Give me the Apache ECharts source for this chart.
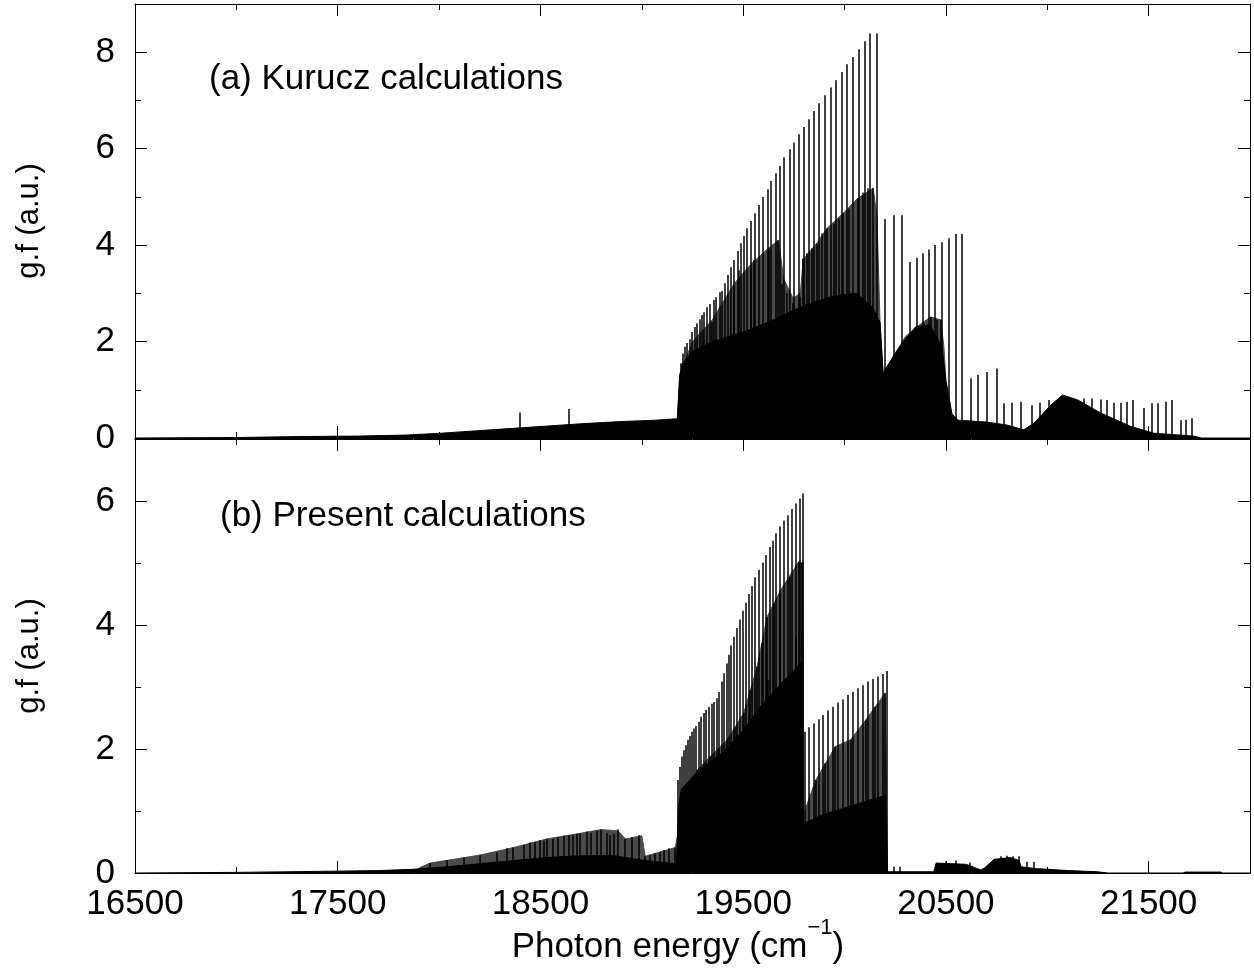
<!DOCTYPE html>
<html lang="en">
<head>
<meta charset="UTF-8">
<title>g.f spectra</title>
<script src="https://cdn.jsdelivr.net/npm/echarts@6/dist/echarts.min.js"></script>
<style>
    html, body { margin: 0; padding: 0; background: #fff; }
    #chart { width: 1254px; height: 976px; }
</style>
</head>
<body>
<div id="chart"></div>
<script>
// axis ticks
var xMajor = [16500, 17500, 18500, 19500, 20500, 21500]
var xMinor = [17000, 18000, 19000, 20000, 21000, 22000]
var yMajorA = [0, 2, 4, 6, 8]
var yMinorA = [1, 3, 5, 7, 9]
var yMajorB = [0, 2, 4, 6]
var yMinorB = [1, 3, 5, 7]

// (a) Kurucz: solid black background read as an envelope
var kuruczFillX = [16500, 17000, 17307, 17600, 17836, 18012, 18188, 18365, 18541, 18718,
    18894, 19070, 19175, 19187, 19200, 19250, 19350, 19500, 19650, 19800,
    19950, 20060, 20140, 20175, 20190, 20250, 20300, 20350, 20420, 20480,
    20500, 20530, 20560, 20700, 20800, 20883, 20933, 21017, 21075, 21150,
    21263, 21412, 21525, 21722, 21760, 22000]
var kuruczFillY = [0.0, 0.01, 0.03, 0.04, 0.06, 0.1, 0.15, 0.2, 0.25, 0.3,
    0.34, 0.37, 0.4, 1.3, 1.55, 1.8, 2.0, 2.2, 2.45, 2.75,
    2.95, 3.0, 2.7, 2.4, 1.35, 1.75, 2.05, 2.3, 2.35, 1.9,
    1.2, 0.5, 0.37, 0.33, 0.27, 0.17, 0.3, 0.68, 0.89, 0.79,
    0.52, 0.24, 0.1, 0.04, 0.0, 0.0]
// (a) envelope of the second tier of lines (dense, grey-looking)
var kuruczMidX = [19176, 19187, 19250, 19348, 19455, 19537, 19628, 19674, 19700, 19746,
    19782, 19796, 19865, 19914, 19993, 20065, 20141, 20160, 20175, 20190,
    20300, 20358, 20424, 20474, 20490, 20500]
var kuruczMidY = [0.4, 1.3, 2.0, 2.45, 3.2, 3.6, 3.95, 4.1, 3.3, 2.9,
    3.0, 3.7, 4.05, 4.35, 4.66, 4.97, 5.18, 4.6, 2.4, 1.35,
    2.1, 2.31, 2.51, 2.45, 1.9, 1.2]
// (a) main progression (tall lines)
var kuruczPeakX = [19187, 19195, 19204, 19213, 19225, 19236, 19249, 19261, 19273, 19285,
    19297, 19309, 19322, 19335, 19355, 19366, 19386, 19397, 19411, 19427,
    19442, 19457, 19473, 19488, 19503, 19521, 19541, 19560, 19579, 19598,
    19620, 19639, 19663, 19682, 19703, 19730, 19753, 19776, 19801, 19827,
    19850, 19876, 19902, 19931, 19957, 19985, 20013, 20041, 20072, 20100,
    20128, 20161]
var kuruczPeakY = [1.2, 1.55, 1.75, 1.89, 1.97, 2.05, 2.2, 2.3, 2.38, 2.46,
    2.55, 2.61, 2.71, 2.78, 2.86, 2.92, 3.02, 3.05, 3.21, 3.38,
    3.54, 3.69, 3.88, 4.04, 4.19, 4.35, 4.5, 4.66, 4.83, 5.0,
    5.16, 5.33, 5.49, 5.64, 5.82, 5.99, 6.13, 6.3, 6.45, 6.61,
    6.78, 6.94, 7.11, 7.27, 7.42, 7.59, 7.75, 7.9, 8.06, 8.23,
    8.39, 8.39]
// (a) other visible lines
var kuruczLineX = [18397, 18642, 19348, 19455, 19480, 19537, 19554, 19628, 19674,
    19692, 19717, 19746, 19782, 19796, 19815, 19840, 19865, 19889, 19914,
    19947, 19972, 19993, 20021, 20065, 20092, 20115, 20141,
    20202, 20246, 20284,
    20322, 20355, 20385, 20418, 20447, 20480, 20514, 20548, 20577,
    20358, 20391, 20424, 20457, 20474,
    20622, 20658, 20701, 20750,
    20786, 20824, 20868, 20926, 20964, 21008,
    21181, 21222, 21263, 21296, 21329, 21362, 21395, 21424,
    21477, 21518, 21546, 21584, 21617,
    21658, 21683, 21716]
var kuruczLineY = [0.53, 0.6, 2.41, 3.17, 3.48, 3.59, 3.69, 3.93, 4.1,
    3.2, 3.0, 2.8, 2.93, 3.72, 3.83, 3.93, 4.03, 4.24, 4.35,
    4.45, 4.55, 4.66, 4.76, 4.97, 5.09, 5.18, 5.18,
    4.54, 4.62, 4.62,
    3.65, 3.74, 3.83, 3.91, 4.0, 4.06, 4.14, 4.23, 4.23,
    2.31, 2.38, 2.51, 2.45, 2.45,
    1.24, 1.31, 1.37, 1.44,
    0.72, 0.73, 0.75, 0.68, 0.73, 0.79,
    0.82, 0.82, 0.8, 0.79, 0.73, 0.73, 0.75, 0.79,
    0.62, 0.72, 0.72, 0.75, 0.79,
    0.37, 0.38, 0.41]

// (b) Present: solid black background envelope
var presentFillX = [16500, 17000, 17500, 17709, 17872, 18039, 18203, 18367, 18532, 18697,
    18861, 19017, 19170, 19176, 19182, 19195, 19250, 19300, 19400, 19500,
    19600, 19700, 19790, 19798, 19900, 20000, 20100, 20200, 20212, 20440,
    20452, 20600, 20671, 20690, 20737, 20819, 20862, 20870, 20951, 21100,
    21247, 21300, 21670, 21680, 21855, 21865, 22000]
var presentFillY = [0, 0.01, 0.03, 0.04, 0.06, 0.1, 0.15, 0.2, 0.25, 0.28,
    0.28, 0.2, 0.15, 0.6, 1.1, 1.35, 1.55, 1.7, 1.95, 2.3,
    2.75, 3.1, 3.4, 0.8, 0.95, 1.05, 1.15, 1.25, 0.02, 0.02,
    0.16, 0.14, 0.05, 0.08, 0.22, 0.25, 0.2, 0.1, 0.07, 0.04,
    0.02, 0, 0, 0.015, 0.015, 0, 0]
// (b) envelope of the second tier of lines
var presentMidX = [17900, 17956, 18203, 18367, 18532, 18697, 18799, 18883, 18919, 19000,
    19017, 19165, 19176, 19182, 19273, 19338, 19421, 19503, 19569, 19618,
    19684, 19774, 19796, 19798, 19803, 19858, 19955, 20030, 20105, 20200,
    20212]
var presentMidY = [0.08, 0.16, 0.29, 0.41, 0.55, 0.64, 0.7, 0.68, 0.55, 0.6,
    0.27, 0.41, 0.6, 1.1, 1.66, 1.88, 2.15, 2.58, 3.33, 4.13,
    4.56, 5.02, 5.0, 0.8, 1.0, 1.5, 2.04, 2.15, 2.47, 2.9,
    0.02]
// (b) two progressions of tall lines
var presentPeakX = [19177, 19187, 19197, 19206, 19216, 19226, 19236, 19246, 19256, 19269,
    19280, 19292, 19305, 19318, 19332, 19345, 19358, 19371, 19383, 19396,
    19407, 19419, 19432, 19442, 19455, 19470, 19483, 19498, 19514, 19529,
    19544, 19560, 19579, 19596, 19615, 19631, 19648, 19664, 19684, 19702,
    19722, 19740, 19759, 19778, 19796,
    19803, 19825, 19848, 19873, 19894, 19917, 19944, 19967, 19993, 20018,
    20043, 20067, 20092, 20117, 20139, 20164, 20189, 20210]
var presentPeakY = [1.5, 1.71, 1.88, 1.98, 2.06, 2.15, 2.21, 2.28, 2.33, 2.37,
    2.44, 2.52, 2.58, 2.63, 2.68, 2.73, 2.76, 2.82, 2.92, 3.09,
    3.22, 3.38, 3.52, 3.67, 3.81, 3.95, 4.09, 4.23, 4.36, 4.5,
    4.63, 4.77, 4.89, 5.01, 5.13, 5.26, 5.36, 5.48, 5.59, 5.68,
    5.77, 5.87, 5.96, 6.04, 6.12,
    2.28, 2.35, 2.41, 2.48, 2.55, 2.62, 2.68, 2.75, 2.8, 2.87,
    2.92, 2.98, 3.03, 3.09, 3.13, 3.17, 3.21, 3.26]
// (b) other visible lines
var presentLineX = [17956, 18039, 18121, 18203, 18285, 18335, 18367, 18417, 18450, 18474,
    18499, 18516, 18532, 18562, 18586, 18614, 18639, 18660, 18680, 18697,
    18730, 18751, 18779, 18799, 18828, 18845, 18861, 18883, 18919, 18952,
    18984, 19017, 19039, 19067, 19088, 19108, 19132, 19165,
    19273, 19305, 19338, 19379, 19421, 19462, 19503, 19536, 19569, 19593,
    19618, 19651, 19684, 19733, 19774, 19791,
    19320, 19400, 19480, 19560, 19620, 19680, 19760,
    19858, 19905, 19955, 20030, 20105, 20150, 20200,
    20246, 20276, 20498, 20552, 20618, 20770, 20800, 20830, 20860, 20900, 20934]
var presentLineY = [0.16, 0.21, 0.25, 0.29, 0.34, 0.4, 0.41, 0.45, 0.49, 0.5,
    0.53, 0.52, 0.55, 0.55, 0.58, 0.6, 0.61, 0.61, 0.63, 0.64,
    0.67, 0.65, 0.68, 0.7, 0.65, 0.61, 0.63, 0.7, 0.55, 0.58,
    0.61, 0.27, 0.29, 0.32, 0.34, 0.37, 0.4, 0.41,
    1.66, 1.75, 1.88, 2.0, 2.15, 2.35, 2.58, 2.95, 3.33, 3.7,
    4.13, 4.35, 4.56, 4.78, 5.02, 5.0,
    1.45, 1.7, 2.04, 2.5, 3.11, 3.33, 3.81,
    1.5, 1.77, 2.04, 2.15, 2.47, 2.68, 2.9,
    0.1, 0.1, 0.19, 0.2, 0.17, 0.27, 0.28, 0.27, 0.27, 0.18, 0.18]

var font = 'Liberation Sans'
var chart = echarts.init(document.getElementById('chart'), null, {renderer: 'canvas'})

function pairs(xs, ys) {
    return xs.map(function (x, i) { return [x, ys[i]] })
}

// one stick from the baseline up to the value
function stick(params, api) {
    var p0 = api.coord([api.value(0), 0])
    var p1 = api.coord([api.value(0), api.value(1)])
    var x = Math.round(p0[0])
    return {
        type: 'line',
        shape: {x1: x, y1: p0[1], x2: x, y2: p1[1]},
        style: {stroke: '#000', lineWidth: 1.5}
    }
}

// an axis drawn only for its frame line and ticks
function edge(dim, grid, position, ticks, len, line) {
    var ax = {
        type: 'value',
        gridIndex: grid,
        position: position,
        nameMoveOverlap: false,
        axisLine: {show: line, onZero: false, lineStyle: {color: '#000', width: 1}},
        axisTick: {show: true, inside: true, length: len, customValues: ticks,
            lineStyle: {color: '#000', width: 1}},
        axisLabel: {show: false},
        splitLine: {show: false}
    }
    if (dim === 'x') {
        ax.min = 16500
        ax.max = 22000
    } else {
        ax.min = 0
        ax.max = grid === 0 ? 9 : 7
    }
    return ax
}

var labelStyle = {
    show: true, fontSize: 35, fontFamily: font, color: '#000',
    formatter: function (v) { return String(v) }
}

var xAxes = [
    edge('x', 0, 'bottom', xMajor, 12, true),
    edge('x', 0, 'bottom', xMinor, 6, false),
    edge('x', 0, 'top', xMajor, 12, true),
    edge('x', 0, 'top', xMinor, 6, false),
    edge('x', 1, 'top', xMajor, 12, true),
    edge('x', 1, 'top', xMinor, 6, false),
    edge('x', 1, 'bottom', xMajor, 12, true),
    edge('x', 1, 'bottom', xMinor, 6, false)
]
xAxes[6].axisLabel = Object.assign({}, labelStyle, {customValues: xMajor, margin: 14})

var yAxes = [
    edge('y', 0, 'left', yMajorA, 12, true),
    edge('y', 0, 'left', yMinorA, 6, false),
    edge('y', 0, 'right', yMajorA, 12, true),
    edge('y', 0, 'right', yMinorA, 6, false),
    edge('y', 1, 'left', yMajorB, 12, true),
    edge('y', 1, 'left', yMinorB, 6, false),
    edge('y', 1, 'right', yMajorB, 12, true),
    edge('y', 1, 'right', yMinorB, 6, false)
]
var yName = {fontSize: 31, fontFamily: font, color: '#000'}
yAxes[0].axisLabel = Object.assign({}, labelStyle, {customValues: yMajorA, margin: 20})
yAxes[0].name = 'g.f (a.u.)'
yAxes[0].nameLocation = 'middle'
yAxes[0].nameGap = 90
yAxes[0].nameTextStyle = yName
yAxes[4].axisLabel = Object.assign({}, labelStyle, {customValues: yMajorB, margin: 20})
yAxes[4].name = 'g.f (a.u.)'
yAxes[4].nameLocation = 'middle'
yAxes[4].nameGap = 90
yAxes[4].nameTextStyle = yName

// x title with a raised "-1": three text pieces laid side by side
var measure = document.createElement('canvas').getContext('2d')
function textWidth(str, size) {
    measure.font = size + 'px "' + font + '"'
    return measure.measureText(str).width
}
var titleMain = 'Photon energy (cm', titleSup = '\u22121', titleEnd = ')'
var wMain = textWidth(titleMain, 35), wSup = textWidth(titleSup, 22), wEnd = textWidth(titleEnd, 35)
var titleLeft = 678 - (wMain + wSup + wEnd) / 2

function fill(xs, ys, xi, yi, color, z) {
    return {
        type: 'line', xAxisIndex: xi, yAxisIndex: yi,
        data: pairs(xs, ys),
        showSymbol: false, symbol: 'none',
        lineStyle: {color: color, width: 1},
        areaStyle: {color: color, opacity: 1},
        z: z
    }
}

function sticks(xs, ys, xi, yi) {
    return {
        type: 'custom', xAxisIndex: xi, yAxisIndex: yi,
        data: pairs(xs, ys),
        encode: {x: 0, y: 1},
        renderItem: stick,
        clip: true,
        z: 4
    }
}

var option = {
    animation: false,
    backgroundColor: '#fff',
    grid: [
        {left: 135, top: 4, width: 1115, height: 434, outerBoundsMode: 'none', containLabel: false},
        {left: 135, top: 439, width: 1115, height: 434, outerBoundsMode: 'none', containLabel: false}
    ],
    xAxis: xAxes,
    yAxis: yAxes,
    graphic: [
        {type: 'text', left: 209, top: 62,
            style: {text: '(a) Kurucz calculations', font: '35px "Liberation Sans"', fill: '#000'}},
        {type: 'text', left: 220, top: 499,
            style: {text: '(b) Present calculations', font: '35px "Liberation Sans"', fill: '#000'}},
        {type: 'text', x: titleLeft, y: 947,
            style: {text: titleMain, font: '35px "Liberation Sans"', fill: '#000',
                align: 'left', verticalAlign: 'middle'}},
        {type: 'text', x: titleLeft + wMain, y: 928,
            style: {text: titleSup, font: '22px "Liberation Sans"', fill: '#000',
                align: 'left', verticalAlign: 'middle'}},
        {type: 'text', x: titleLeft + wMain + wSup, y: 947,
            style: {text: titleEnd, font: '35px "Liberation Sans"', fill: '#000',
                align: 'left', verticalAlign: 'middle'}}
    ],
    series: [
        fill(kuruczMidX, kuruczMidY, 0, 0, '#4a4a4a', 2),
        fill(kuruczFillX, kuruczFillY, 0, 0, '#000', 3),
        sticks(kuruczLineX, kuruczLineY, 0, 0),
        sticks(kuruczPeakX, kuruczPeakY, 0, 0),
        fill(presentMidX, presentMidY, 6, 4, '#4a4a4a', 2),
        fill(presentFillX, presentFillY, 6, 4, '#000', 3),
        sticks(presentLineX, presentLineY, 6, 4),
        sticks(presentPeakX, presentPeakY, 6, 4)
    ]
}

chart.setOption(option)
</script>
</body>
</html>
